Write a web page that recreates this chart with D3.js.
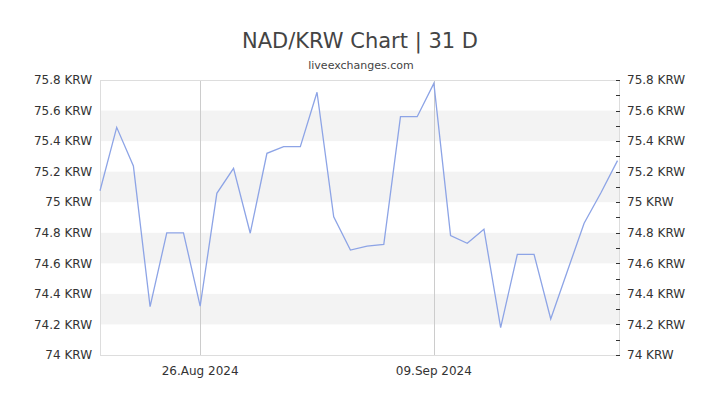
<html>
<head>
  <script src="https://d3js.org/d3.v7.min.js"></script>
  <style>
    body { margin: 0; background: #fff; }
    text { font-family: "DejaVu Sans", sans-serif; }
  </style>
</head>
<body>
<div id="chart"></div>
<script>
// daily NAD/KRW rate, 20 Aug 2024 .. 20 Sep 2024
var startDate = "2024-08-20";
var rates = [75.075, 75.49, 75.237, 74.316, 74.80, 74.80, 74.32, 75.058, 75.222, 74.797,
             75.32, 75.364, 75.364, 75.72, 74.905, 74.687, 74.713, 74.724, 75.56, 75.56,
             75.778, 74.781, 74.731, 74.823, 74.179, 74.659, 74.659, 74.236, 74.55, 74.862,
             75.06, 75.272];
var xTickDates = ["2024-08-26", "2024-09-09"];
var yTicks = [74, 74.2, 74.4, 74.6, 74.8, 75, 75.2, 75.4, 75.6, 75.8];
var minorTicks = d3.range(74, 75.85, 0.1);

var width = 720, height = 405;
var plotL = 100, plotR = 619, plotT = 80, plotB = 355;

var parse = d3.timeParse("%Y-%m-%d");
var t0 = parse(startDate);
var data = rates.map(function(v, i) { return { date: d3.timeDay.offset(t0, i), value: v }; });

var svg = d3.select("#chart").append("svg")
    .attr("width", width)
    .attr("height", height);

var x = d3.scaleTime()
    .domain(d3.extent(data, function(d) { return d.date; }))
    .range([plotL, plotR - 1.5]);

var y = d3.scaleLinear()
    .domain([74, 75.8])
    .range([plotB, plotT]);

// alternating bands
var bands = [];
for (var i = 0; i + 1 < yTicks.length; i++) if (i % 2 == 1) bands.push([yTicks[i], yTicks[i + 1]]);
svg.selectAll("rect.band").data(bands).enter().append("rect")
    .attr("class", "band")
    .attr("x", plotL)
    .attr("width", plotR - plotL)
    .attr("y", function(d) { return y(d[1]); })
    .attr("height", function(d) { return y(d[0]) - y(d[1]); })
    .attr("fill", "#f3f3f3");

// vertical grid lines
svg.selectAll("line.vgrid").data(xTickDates.map(parse)).enter().append("line")
    .attr("class", "vgrid")
    .attr("x1", function(d) { return Math.round(x(d)) + 0.5; })
    .attr("x2", function(d) { return Math.round(x(d)) + 0.5; })
    .attr("y1", plotT)
    .attr("y2", plotB)
    .attr("stroke", "#ccc");

// frame
svg.append("rect")
    .attr("x", plotL + 0.5)
    .attr("y", plotT + 0.5)
    .attr("width", plotR - plotL)
    .attr("height", plotB - plotT)
    .attr("fill", "none")
    .attr("stroke", "#ddd");

// right minor ticks
svg.selectAll("line.rtick").data(minorTicks).enter().append("line")
    .attr("class", "rtick")
    .attr("x1", plotR - 3)
    .attr("x2", plotR + 1)
    .attr("y1", function(d) { return Math.round(y(d)) + 0.5; })
    .attr("y2", function(d) { return Math.round(y(d)) + 0.5; })
    .attr("stroke", "#333");

// the rate line
svg.append("path")
    .datum(data)
    .attr("fill", "none")
    .attr("stroke", "#8da4e6")
    .attr("stroke-width", 1.3)
    .attr("d", d3.line()
      .x(function(d) { return x(d.date); })
      .y(function(d) { return y(d.value); }));

function fmt(v) { return d3.format("~g")(+v.toFixed(1)) + " KRW"; }

// y labels left and right
svg.selectAll("text.yl").data(yTicks).enter().append("text")
    .attr("class", "yl")
    .attr("x", 92)
    .attr("y", function(d) { return y(d); })
    .attr("dy", "0.35em")
    .attr("text-anchor", "end")
    .attr("font-size", 12)
    .attr("fill", "#333")
    .text(fmt);
svg.selectAll("text.yr").data(yTicks).enter().append("text")
    .attr("class", "yr")
    .attr("x", 627)
    .attr("y", function(d) { return y(d); })
    .attr("dy", "0.35em")
    .attr("font-size", 12)
    .attr("fill", "#333")
    .text(fmt);

// x labels
var xfmt = d3.timeFormat("%d.%b %Y");
svg.selectAll("text.xl").data(xTickDates.map(parse)).enter().append("text")
    .attr("class", "xl")
    .attr("x", function(d) { return x(d); })
    .attr("y", 375)
    .attr("text-anchor", "middle")
    .attr("font-size", 12)
    .attr("fill", "#333")
    .text(xfmt);

// titles
svg.append("text")
    .attr("x", 360).attr("y", 48)
    .attr("text-anchor", "middle")
    .attr("font-size", 21)
    .attr("fill", "#444")
    .text("NAD/KRW Chart | 31 D");
svg.append("text")
    .attr("x", 361).attr("y", 69)
    .attr("text-anchor", "middle")
    .attr("font-size", 11)
    .attr("fill", "#444")
    .text("liveexchanges.com");
</script>
</body>
</html>
